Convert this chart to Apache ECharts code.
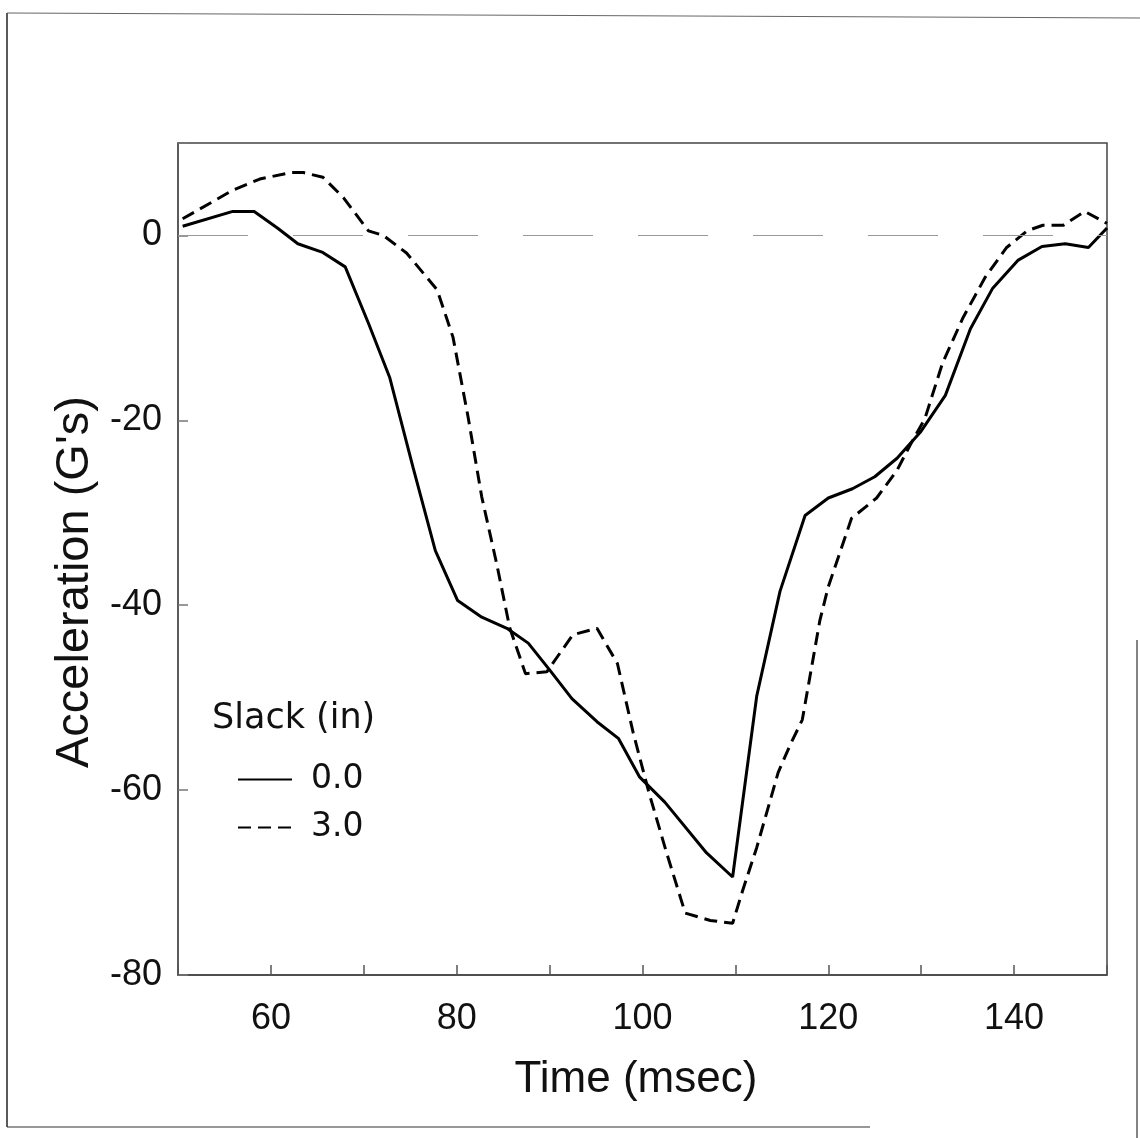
<!DOCTYPE html>
<html>
<head>
<meta charset="utf-8">
<script src="https://cdn.jsdelivr.net/npm/echarts@6/dist/echarts.min.js"></script>
<style>html,body{margin:0;padding:0;background:#fff}#c{width:1140px;height:1138px}</style>
</head>
<body>
<div id="c"></div>
<script>
// ---- data ----
const seriesNames = ['0.0', '3.0'];
const legendTitle = 'Slack (in)';
const xTitle = 'Time (msec)';
const yTitle = "Acceleration (G's)";
const xTickLabels = [60, 80, 100, 120, 140];
const yTickLabels = [-80, -60, -40, -20, 0];

const time0 = [50.5, 55.9, 58.2, 60.7, 62.9, 65.5, 68.0, 70.5, 72.8, 75.3, 77.7, 80.1, 82.7, 85.4, 87.7, 90.0, 92.4, 95.1, 97.4, 99.7, 102.4, 106.9, 109.7, 112.3, 114.8, 117.5, 120.0, 122.6, 125.0, 127.4, 129.9, 132.6, 135.3, 137.7, 140.4, 143.0, 145.5, 148.0, 150.0];
const accel0 = [1.0, 2.6, 2.6, 0.8, -0.9, -1.8, -3.4, -9.5, -15.4, -25.1, -34.1, -39.5, -41.3, -42.5, -44.1, -47.0, -50.1, -52.6, -54.4, -58.6, -61.3, -66.8, -69.4, -49.8, -38.5, -30.3, -28.4, -27.4, -26.1, -24.1, -21.3, -17.3, -10.1, -5.7, -2.7, -1.2, -0.9, -1.3, 0.8];

const time3 = [50.5, 55.9, 58.8, 62.1, 63.5, 65.6, 67.8, 70.5, 72.1, 74.6, 77.9, 79.6, 81.2, 82.7, 84.3, 85.7, 87.4, 89.7, 92.5, 95.1, 97.3, 99.0, 100.7, 102.6, 104.6, 107.3, 109.7, 110.8, 112.3, 114.6, 115.9, 117.2, 119.1, 120.0, 122.5, 125.2, 127.4, 128.8, 130.4, 132.3, 134.5, 136.9, 139.2, 141.4, 143.1, 145.3, 147.6, 150.0];
const accel3 = [1.8, 4.9, 6.1, 6.8, 6.8, 6.3, 4.1, 0.5, 0.0, -1.9, -5.9, -11.0, -19.5, -28.3, -35.5, -42.4, -47.4, -47.2, -43.2, -42.5, -46.3, -53.8, -60.3, -66.8, -73.3, -74.1, -74.4, -70.8, -66.2, -58.1, -55.1, -52.4, -41.6, -38.0, -30.6, -28.4, -25.4, -22.7, -19.8, -13.8, -8.9, -4.5, -1.3, 0.5, 1.1, 1.1, 2.6, 1.3];

const pairs = (xs, ys) => xs.map((x, i) => [x, ys[i]]);

const FONT = '"Liberation Sans", Arial, Helvetica, sans-serif';
const LFONT = '"DejaVu Sans", "Liberation Sans", sans-serif';
const chart = echarts.init(document.getElementById('c'), null, {renderer: 'canvas'});

chart.setOption({
  backgroundColor: '#ffffff',
  animation: false,
  grid: {left: 178, top: 143, right: 33, bottom: 163, show: true, borderColor: '#444', borderWidth: 1.5},
  xAxis: {
    type: 'value', min: 50, max: 150, interval: 10,
    axisLine: {show: true, onZero: false, lineStyle: {color: '#444', width: 1.5}},
    axisTick: {show: true, inside: true, length: 10, lineStyle: {color: '#555', width: 1.5}},
    splitLine: {show: false},
    axisLabel: {
      fontFamily: FONT, fontSize: 36, color: '#111', margin: 26,
      formatter: v => (xTickLabels.indexOf(v) >= 0 ? String(v) : '')
    }
  },
  yAxis: {
    type: 'value', min: -80, max: 10, interval: 20,
    axisLine: {show: true, onZero: false, lineStyle: {color: '#555', width: 1.5}},
    axisTick: {show: true, inside: true, length: 10, lineStyle: {color: '#777', width: 1.5}},
    splitLine: {show: false},
    axisLabel: {
      fontFamily: FONT, fontSize: 36, color: '#111', margin: 16,
      formatter: v => (yTickLabels.indexOf(v) >= 0 ? String(v) : '')
    }
  },
  legend: {
    orient: 'vertical', left: 232, top: 758, itemWidth: 54, itemHeight: 14, itemGap: 15,
    data: seriesNames,
    itemStyle: {opacity: 0},
    textStyle: {fontFamily: LFONT, fontSize: 33, color: '#111', padding: [0, 0, 0, 14]}
  },
  series: [
    {
      name: seriesNames[0], type: 'line', data: pairs(time0, accel0),
      symbol: 'none', lineStyle: {color: '#000', width: 3, type: 'solid'},
      itemStyle: {color: '#000'},
      markLine: {
        silent: true, symbol: 'none', label: {show: false},
        lineStyle: {color: '#999', width: 1.2, type: [70, 45]},
        data: [{yAxis: 0}]
      }
    },
    {
      name: seriesNames[1], type: 'line', data: pairs(time3, accel3),
      symbol: 'none', lineStyle: {color: '#000', width: 3, type: [13, 7]},
      itemStyle: {color: '#000'}
    }
  ],
  graphic: [
    {type: 'text', left: 212, top: 701, style: {text: legendTitle, font: '35px ' + LFONT, fill: '#111'}},
    {type: 'text', x: 636, y: 1080, style: {text: xTitle, font: '44px ' + FONT, fill: '#111', align: 'center', verticalAlign: 'middle'}},
    {type: 'text', x: 75, y: 582, rotation: Math.PI / 2, style: {text: yTitle, font: '47px ' + FONT, fill: '#111', align: 'center', verticalAlign: 'middle'}},
    {type: 'line', shape: {x1: 7, y1: 13, x2: 7, y2: 1127}, style: {stroke: '#222', lineWidth: 1.5}},
    {type: 'line', shape: {x1: 7, y1: 13, x2: 1140, y2: 18}, style: {stroke: '#666', lineWidth: 1.2}},
    {type: 'line', shape: {x1: 7, y1: 1127, x2: 870, y2: 1127}, style: {stroke: '#333', lineWidth: 1.2}},
    {type: 'line', shape: {x1: 1137, y1: 640, x2: 1137, y2: 1138}, style: {stroke: '#333', lineWidth: 1.2}}
  ]
});
</script>
</body>
</html>
